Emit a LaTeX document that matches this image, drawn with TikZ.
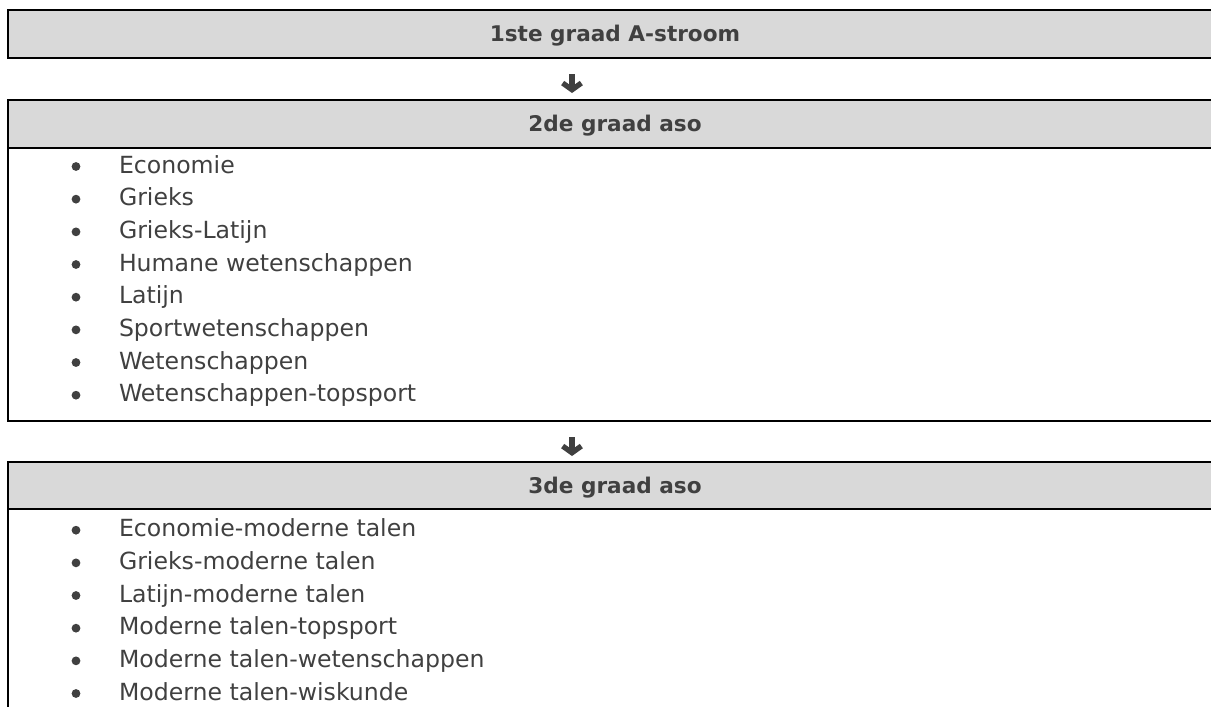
\documentclass[tikz,border=0pt]{standalone}
\usepackage{fontspec}
\setmainfont{DejaVu Sans}
\usetikzlibrary{arrows.meta, positioning}
\definecolor{boxgray}{HTML}{D9D9D9}
\definecolor{inkgray}{HTML}{404040}

\begin{document}
\begin{tikzpicture}[x=0.75pt, y=-0.75pt, line width=1.2pt, outer sep=0pt]
    \tikzstyle{header}=[draw=black, fill=boxgray, text=inkgray, font=\bfseries\fontsize{16.2}{19}\selectfont, minimum width=910.5pt, minimum height=36pt, inner sep=0pt, text height=11.8pt, text depth=0pt]
    \tikzstyle{listbox}=[draw=black, minimum width=910.5pt, inner sep=0pt]
    \tikzstyle{item}=[text=inkgray, font=\fontsize{17.7}{21}\selectfont, anchor=base west, inner sep=0pt]
    \tikzstyle{dot}=[circle, fill=inkgray, minimum size=6.6pt, inner sep=0pt]
    \tikzstyle{flow}=[draw=inkgray, line width=4pt, -{Straight Barb[length=5pt, width=14pt]}]

    \path[use as bounding box, clip] (0,0) rectangle (1211,707);

    % headers
    \node[header] (h1) at (615,34) {1ste graad A-stroom};
    \node[header] (h2) at (615,124) {2de graad aso};
    \node[header, minimum height=35.25pt] (h3) at (615,485.5) {3de graad aso};

    % list boxes under the headers
    \node[listbox, minimum height=204.75pt, below=0pt of h2] (l2) {};
    \node[listbox, minimum height=165pt, below=0pt of h3] (l3) {};

    % arrows between the blocks
    \coordinate (a1) at (572,74);
    \coordinate (b1) at (572,93);
    \coordinate (a2) at (572,437);
    \coordinate (b2) at (572,456);
    \draw[flow] (a1) -- (b1);
    \draw[flow] (a2) -- (b2);

    \foreach \t [count=\i] in {Economie, Grieks, Grieks-Latijn, Humane wetenschappen, Latijn, Sportwetenschappen, Wetenschappen, Wetenschappen-topsport}{
        \pgfmathsetmacro\y{173+(\i-1)*32.67}
        \node[dot] (d2-\i) at (76,\y-6.5) {};
        \node[item] (t2-\i) at (119,\y) {\t};
    }

    \foreach \t [count=\i] in {Economie-moderne talen, Grieks-moderne talen, Latijn-moderne talen, Moderne talen-topsport, Moderne talen-wetenschappen, Moderne talen-wiskunde}{
        \pgfmathsetmacro\y{536.7+(\i-1)*32.66}
        \node[dot] (d3-\i) at (76,\y-6.5) {};
        \node[item] (t3-\i) at (119,\y) {\t};
    }
\end{tikzpicture}
\end{document}
